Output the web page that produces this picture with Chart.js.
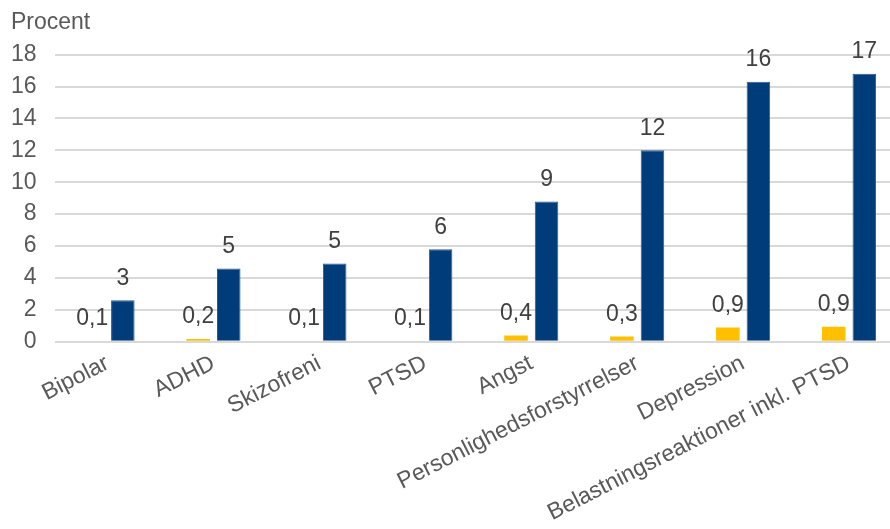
<!DOCTYPE html>
<html>
<head>
<meta charset="utf-8">
<script src="https://cdn.jsdelivr.net/npm/chart.js@4/dist/chart.umd.min.js"></script>
<style>
  html, body { margin: 0; padding: 0; background: #fff; overflow: hidden; }
  #wrap { position: absolute; left: 0; top: 0; width: 902px; height: 527px; }
</style>
</head>
<body>
<div id="wrap"><canvas id="chart" width="902" height="527"></canvas></div>
<script>
const categories = ['Bipolar', 'ADHD', 'Skizofreni', 'PTSD', 'Angst',
  'Personlighedsforstyrrelser', 'Depression', 'Belastningsreaktioner inkl. PTSD'];
const yellowValues = [0.07, 0.17, 0.06, 0.06, 0.4, 0.33, 0.9, 0.94];
const blueValues = [2.6, 4.6, 4.9, 5.8, 8.8, 12.0, 16.3, 16.8];
const yTicks = [0, 2, 4, 6, 8, 10, 12, 14, 16, 18];

const FONT = '"Liberation Sans", Arial, sans-serif';
const Y_PAD = 18;

// simple value labels above each bar
const barLabels = {
  id: 'barLabels',
  afterDatasetsDraw(chart) {
    const c = chart.ctx;
    c.save();
    c.font = '23px ' + FONT;
    c.fillStyle = '#404040';
    c.textAlign = 'center';
    c.textBaseline = 'middle';
    chart.data.datasets.forEach((ds, i) => {
      chart.getDatasetMeta(i).data.forEach((bar, j) => {
        const v = ds.data[j];
        const txt = ds.decimals ? v.toFixed(1).replace('.', ',') : String(Math.round(v));
        c.fillText(txt, bar.x, bar.y - 22);
      });
    });
    c.restore();
  }
};

new Chart(document.getElementById('chart'), {
  type: 'bar',
  data: {
    labels: categories,
    datasets: [
      { data: yellowValues, backgroundColor: '#FFC000', decimals: true,
        categoryPercentage: 0.577, barPercentage: 0.77 },
      { data: blueValues, backgroundColor: '#003B7A', borderColor: '#2a5a92', borderWidth: 1,
        categoryPercentage: 0.577, barPercentage: 0.77 },
    ],
  },
  options: {
    responsive: false,
    devicePixelRatio: 1,
    animation: false,
    layout: { padding: { left: 11, right: 0, top: 0, bottom: 0 } },
    plugins: {
      legend: { display: false },
      tooltip: { enabled: false },
      title: {
        display: true,
        text: 'Procent',
        align: 'start',
        color: '#595959',
        font: { family: FONT, size: 23, weight: 'normal' },
        padding: { top: 9, bottom: 18 },
      },
    },
    scales: {
      x: {
        grid: { display: false },
        border: { display: false },
        afterFit(scale) { scale.paddingLeft = 0; scale.paddingRight = 0; },
        ticks: {
          color: '#595959',
          font: { family: FONT, size: 23 },
          minRotation: 27,
          maxRotation: 27,
          autoSkip: false,
          padding: 0,
        },
      },
      y: {
        min: 0,
        max: 18,
        afterBuildTicks(axis) { axis.ticks = yTicks.map((v) => ({ value: v })); },
        afterFit(scale) { scale.width -= Y_PAD; },
        grid: { color: '#d9d9d9', lineWidth: 2, drawTicks: false },
        border: { display: false },
        ticks: {
          color: '#595959',
          font: { family: FONT, size: 23 },
          padding: Y_PAD,
        },
      },
    },
  },
  plugins: [barLabels],
});
</script>
</body>
</html>
